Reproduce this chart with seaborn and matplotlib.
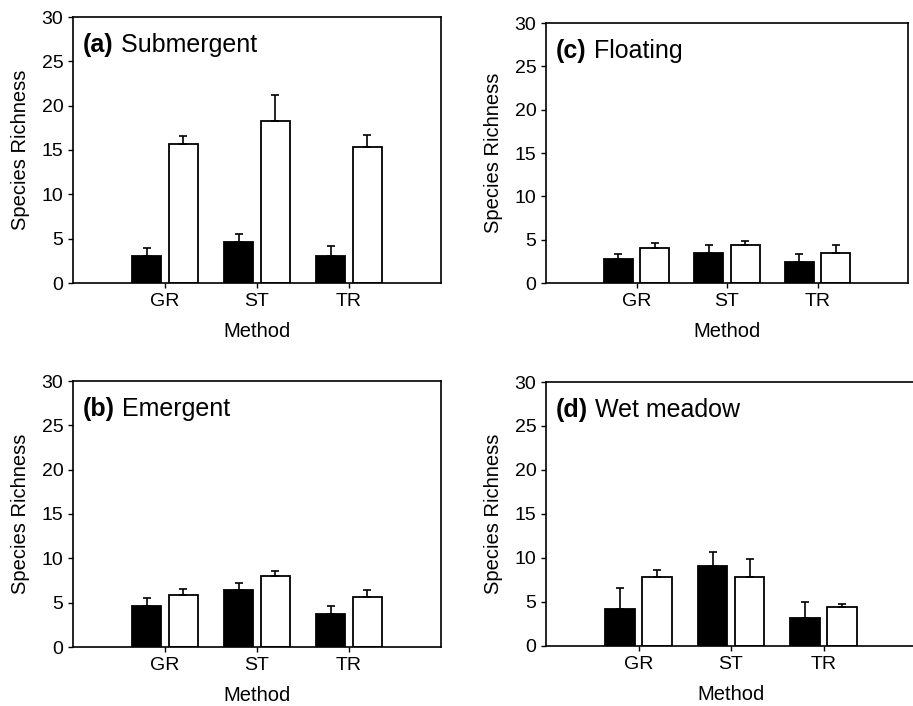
import numpy as np
import pandas as pd
import matplotlib
matplotlib.use("Agg")
import matplotlib.pyplot as plt
import seaborn as sns

methods = ["GR", "ST", "TR"]
series_names = ["Series 1", "Series 2"]

panel_labels = ["(a)", "(b)", "(c)", "(d)"]
panel_titles = ["Submergent", "Emergent", "Floating", "Wet meadow"]

# mean values (black bars = series 1, white bars = series 2)
a_black = [3.05, 4.66, 3.05]
a_black_err = [0.95, 0.84, 1.12]
a_white = [15.7, 18.3, 15.3]
a_white_err = [0.9, 2.9, 1.4]

b_black = [4.63, 6.4, 3.76]
b_black_err = [0.87, 0.86, 0.84]
b_white = [5.9, 7.98, 5.65]
b_white_err = [0.6, 0.6, 0.75]

c_black = [2.74, 3.44, 2.4]
c_black_err = [0.66, 0.89, 0.9]
c_white = [4.0, 4.33, 3.44]
c_white_err = [0.6, 0.47, 0.89]

d_black = [4.16, 9.12, 3.14]
d_black_err = [2.42, 1.58, 1.86]
d_white = [7.8, 7.8, 4.39]
d_white_err = [0.86, 2.04, 0.34]

y_ticks = [0, 5, 10, 15, 20, 25, 30]

sns.set_style("white")
plt.rcParams["font.family"] = ["Liberation Sans", "DejaVu Sans"]

fig = plt.figure(figsize=(9.13, 7.06), dpi=100)

W, H = 913.0, 706.0
def frac(l, t, r, b):
    return [l / W, 1 - b / H, (r - l) / W, (b - t) / H]

positions = {
    "(a)": frac(73, 17, 441, 283),
    "(b)": frac(73, 381, 441, 647),
    "(c)": frac(546, 23, 908, 283),
    "(d)": frac(546, 382, 916, 646),
}

panel_data = {
    "(a)": (a_black, a_black_err, a_white, a_white_err),
    "(b)": (b_black, b_black_err, b_white, b_white_err),
    "(c)": (c_black, c_black_err, c_white, c_white_err),
    "(d)": (d_black, d_black_err, d_white, d_white_err),
}

for lab, title in zip(panel_labels, panel_titles):
    blk, blk_e, wht, wht_e = panel_data[lab]
    df = pd.DataFrame({
        "Method": methods * 2,
        "Series": [series_names[0]] * 3 + [series_names[1]] * 3,
        "Richness": list(blk) + list(wht),
        "Err": list(blk_e) + list(wht_e),
    })
    ax = fig.add_axes(positions[lab])
    sns.barplot(data=df, x="Method", y="Richness", hue="Series",
                order=methods, hue_order=series_names,
                palette=["black", "white"], errorbar=None,
                width=0.8, gap=0.2, edgecolor="black", linewidth=1.3,
                legend=False, ax=ax)
    # upper error bars
    for i, s in enumerate(series_names):
        sub = df[df["Series"] == s].set_index("Method").loc[methods]
        xs = np.arange(len(methods)) + (-0.2 if i == 0 else 0.2)
        ax.errorbar(xs, sub["Richness"].values,
                    yerr=[np.zeros(len(methods)), sub["Err"].values],
                    fmt="none", ecolor="black", elinewidth=1.2,
                    capsize=2.8, capthick=1.2, zorder=1)
    ax.set_xlim(-1.0, 3.0)
    ax.set_ylim(0, 30)
    ax.set_yticks(y_ticks)
    ax.set_yticklabels([str(v) for v in y_ticks])
    ax.tick_params(axis="both", which="both", direction="out", length=3.5,
                   width=1.0, color="black", labelsize=14, pad=3.5,
                   left=True, bottom=True, labelcolor="black")
    for sp in ax.spines.values():
        sp.set_visible(True)
        sp.set_color("black")
        sp.set_linewidth(1.2)
    ax.set_xlabel("Method", fontsize=14.5, labelpad=9, color="black")
    ax.set_ylabel("Species Richness", fontsize=14.5, labelpad=8, color="black")
    ax.grid(False)
    t1 = ax.text(-0.89, 26.0, lab, fontsize=18, fontweight="bold",
                 ha="left", va="baseline", color="black")
    ax.annotate(" " + title, xy=(1, 0), xycoords=t1, ha="left", va="bottom",
                fontsize=18, color="black")

fig.savefig("out.png", dpi=100, facecolor="white")
